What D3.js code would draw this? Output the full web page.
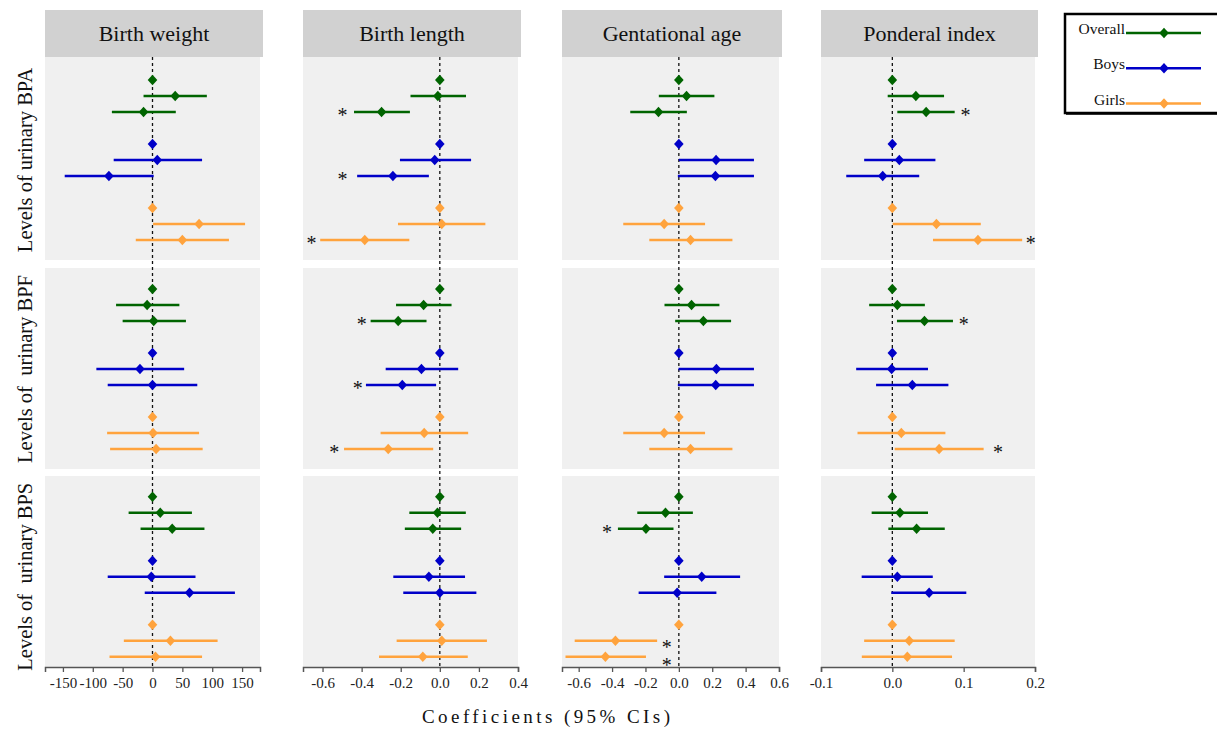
<!DOCTYPE html>
<html>
<head>
<meta charset="utf-8">
<script src="https://cdn.jsdelivr.net/npm/d3@7"></script>
<style>
  body { margin: 0; background: #fff; }
  svg { display: block; font-family: "Liberation Serif", "DejaVu Serif", serif; }
</style>
</head>
<body>
<svg id="chart" width="1217" height="729"></svg>
<script>
// outcomes (columns) and exposures (rows)
const outcomes = ['Birth weight', 'Birth length', 'Gentational age', 'Ponderal index'];
const rowLabels = ['Levels of urinary BPA', 'Levels of  urinary BPF', 'Levels of  urinary BPS'];
const groups = ['Overall', 'Boys', 'Girls'];
const groupColors = ['#006400', '#0000c8', '#ffa33d'];

// x domains and ticks for each outcome
const xDomains = [[-180, 180], [-0.7, 0.4], [-0.7, 0.6], [-0.1, 0.2]];
const tickValues = [
    [-150, -100, -50, 0, 50, 100, 150],
    [-0.6, -0.4, -0.2, 0, 0.2, 0.4],
    [-0.6, -0.4, -0.2, 0, 0.2, 0.4, 0.6],
    [-0.1, 0, 0.1, 0.2]
];
const tickLabels = [
    ['-150', '-100', '-50', '0', '50', '100', '150'],
    ['-0.6', '-0.4', '-0.2', '0.0', '0.2', '0.4'],
    ['-0.6', '-0.4', '-0.2', '0.0', '0.2', '0.4', '0.6'],
    ['-0.1', '0.0', '0.1', '0.2']
];

// [estimate, lower, upper] for each exposure row:
// Overall (ref, T2, T3), Boys (ref, T2, T3), Girls (ref, T2, T3)
const birthWeight = [
    [[0, 0, 0], [38, -15, 91], [-15, -68, 39],
     [0, 0, 0], [8, -65, 83], [-73, -147, 2],
     [0, 0, 0], [78, 1, 155], [50, -28, 128]],
    [[0, 0, 0], [-9, -61, 45], [2, -50, 56],
     [0, 0, 0], [-21, -94, 53], [0, -75, 75],
     [0, 0, 0], [1, -76, 78], [6, -71, 84]],
    [[0, 0, 0], [13, -40, 66], [33, -20, 87],
     [0, 0, 0], [-2, -75, 72], [62, -13, 138],
     [0, 0, 0], [30, -48, 109], [5, -72, 83]]
];
const birthLength = [
    [[0, 0, 0], [-0.01, -0.15, 0.134], [-0.298, -0.439, -0.153],
     [0, 0, 0], [-0.026, -0.204, 0.16], [-0.24, -0.423, -0.056],
     [0, 0, 0], [0.01, -0.214, 0.233], [-0.384, -0.612, -0.156]],
    [[0, 0, 0], [-0.083, -0.224, 0.06], [-0.213, -0.354, -0.068],
     [0, 0, 0], [-0.094, -0.277, 0.094], [-0.192, -0.378, -0.019],
     [0, 0, 0], [-0.08, -0.303, 0.145], [-0.264, -0.49, -0.034]],
    [[0, 0, 0], [-0.012, -0.156, 0.133], [-0.036, -0.179, 0.109],
     [0, 0, 0], [-0.056, -0.238, 0.129], [0, -0.187, 0.187],
     [0, 0, 0], [0.01, -0.221, 0.241], [-0.087, -0.311, 0.143]]
];
const gestationalAge = [
    [[0, 0, 0], [0.046, -0.12, 0.213], [-0.122, -0.291, 0.048],
     [0, 0, 0], [0.223, 0, 0.45], [0.219, -0.006, 0.45],
     [0, 0, 0], [-0.088, -0.333, 0.157], [0.07, -0.177, 0.321]],
    [[0, 0, 0], [0.076, -0.086, 0.243], [0.147, -0.022, 0.313],
     [0, 0, 0], [0.225, -0.002, 0.45], [0.221, -0.006, 0.45],
     [0, 0, 0], [-0.088, -0.333, 0.157], [0.07, -0.177, 0.321]],
    [[0, 0, 0], [-0.08, -0.249, 0.084], [-0.197, -0.365, -0.032],
     [0, 0, 0], [0.137, -0.088, 0.367], [-0.01, -0.241, 0.225],
     [0, 0, 0], [-0.38, -0.624, -0.13], [-0.44, -0.679, -0.197]]
];
const ponderalIndex = [
    [[0, 0, 0], [0.033, -0.0065, 0.0725], [0.0474, 0.007, 0.0874],
     [0, 0, 0], [0.0098, -0.0395, 0.0604], [-0.0135, -0.0646, 0.0377],
     [0, 0, 0], [0.0618, 0.0005, 0.124], [0.12, 0.057, 0.182]],
    [[0, 0, 0], [0.007, -0.0325, 0.0456], [0.045, 0.0065, 0.085],
     [0, 0, 0], [-0.001, -0.0507, 0.05], [0.028, -0.0228, 0.0786],
     [0, 0, 0], [0.0126, -0.0488, 0.0744], [0.0656, 0.0033, 0.128]],
    [[0, 0, 0], [0.0107, -0.029, 0.05], [0.034, -0.0056, 0.0735],
     [0, 0, 0], [0.007, -0.043, 0.0567], [0.0516, -0.0014, 0.1037],
     [0, 0, 0], [0.0237, -0.0395, 0.0874], [0.021, -0.0428, 0.0837]]
];
const allEstimates = [birthWeight, birthLength, gestationalAge, ponderalIndex];

// significance marks: [outcome, exposure row, item index, x value of the star, slot nudge]
const stars = [
    [1, 0, 2, -0.498, 0], [1, 0, 5, -0.498, 0], [1, 0, 8, -0.656, 0],
    [1, 1, 2, -0.40, 0], [1, 1, 5, -0.42, 0], [1, 1, 8, -0.54, 0],
    [2, 2, 2, -0.431, 0], [2, 2, 7, -0.072, 0.2], [2, 2, 8, -0.072, 0.3],
    [3, 0, 2, 0.1027, 0], [3, 0, 8, 0.194, 0],
    [3, 1, 2, 0.10, 0], [3, 1, 8, 0.148, 0]
];

// ---- layout ----
const svg = d3.select('#chart');
const colX = [[45, 260], [303, 518], [562, 779], [821, 1035]];
const rowY = [[57, 260], [268, 469], [476, 667]];
const firstPoint = [80, 289, 496.7];
const slot = [0, 1, 2, 4, 5, 6, 8, 9, 10];
const stripTop = 10;

const xScales = colX.map((c, i) => d3.scaleLinear().domain(xDomains[i]).range(c));
const yScales = firstPoint.map(y0 => d3.scaleLinear().domain([0, 10]).range([y0, y0 + 160]));

const diamond = 'M0,-5.2L4.8,0L0,5.2L-4.8,0Z';

// strip headers
outcomes.forEach((name, i) => {
    const [x0, x1] = colX[i];
    svg.append('rect')
        .attr('x', x0).attr('y', stripTop)
        .attr('width', x1 - x0 + 3).attr('height', rowY[0][0] - stripTop)
        .attr('fill', '#d1d1d1');
    svg.append('text')
        .attr('x', (x0 + x1 + 3) / 2).attr('y', 41)
        .attr('text-anchor', 'middle')
        .attr('font-size', 22)
        .attr('fill', '#111')
        .text(name);
});

// panels
rowY.forEach(([y0, y1], r) => {
    colX.forEach(([x0, x1], c) => {
        svg.append('rect')
            .attr('x', x0).attr('y', y0)
            .attr('width', x1 - x0).attr('height', y1 - y0)
            .attr('fill', '#f0f0f0');
    });
    // row label
    const cy = (yScales[r](0) + yScales[r](10)) / 2;
    svg.append('text')
        .attr('transform', `translate(32,${cy}) rotate(-90)`)
        .attr('text-anchor', 'middle')
        .attr('font-size', 20.5)
        .attr('fill', '#111')
        .style('white-space', 'pre')
        .text(rowLabels[r]);
});

// zero reference lines
xScales.forEach(x => {
    svg.append('line')
        .attr('x1', x(0)).attr('x2', x(0))
        .attr('y1', rowY[0][0]).attr('y2', rowY[2][1])
        .attr('stroke', '#111')
        .attr('stroke-width', 1.3)
        .attr('stroke-dasharray', '3,3');
});

// estimates
allEstimates.forEach((outcome, c) => {
    const x = xScales[c];
    outcome.forEach((rowData, r) => {
        const y = yScales[r];
        const g = svg.append('g');
        const items = rowData.map((d, i) => ({ est: d[0], lo: d[1], hi: d[2], i, group: Math.floor(i / 3) }));

        g.selectAll('line.ci')
            .data(items.filter(d => d.lo !== d.hi))
            .enter()
            .append('line')
            .attr('class', 'ci')
            .attr('x1', d => x(d.lo))
            .attr('x2', d => x(d.hi))
            .attr('y1', d => y(slot[d.i]))
            .attr('y2', d => y(slot[d.i]))
            .attr('stroke', d => groupColors[d.group])
            .attr('stroke-width', 2.4);

        g.selectAll('path.pt')
            .data(items)
            .enter()
            .append('path')
            .attr('class', 'pt')
            .attr('d', diamond)
            .attr('transform', d => `translate(${x(d.est)},${y(slot[d.i])})`)
            .attr('fill', d => groupColors[d.group]);
    });
});

// stars
svg.append('g').selectAll('text')
    .data(stars)
    .enter()
    .append('text')
    .attr('x', d => xScales[d[0]](d[3]))
    .attr('y', d => yScales[d[1]](slot[d[2]] + d[4]) + 10)
    .attr('text-anchor', 'middle')
    .attr('font-size', 20)
    .attr('fill', '#111')
    .text('*');

// x axes
xScales.forEach((x, i) => {
    const axis = d3.axisBottom(x)
        .tickValues(tickValues[i])
        .tickFormat((d, k) => tickLabels[i][k])
        .tickSizeOuter(0)
        .tickSize(5)
        .tickPadding(5);
    const ax = svg.append('g')
        .attr('transform', `translate(0,${rowY[2][1]})`)
        .call(axis);
    ax.select('.domain').attr('stroke', '#555').attr('stroke-width', 1.5);
    ax.selectAll('.tick line').attr('stroke', '#555').attr('stroke-width', 1.3);
    ax.selectAll('.tick text')
        .attr('font-family', '"Liberation Serif", serif')
        .attr('font-size', 15)
        .attr('fill', '#222');
});

// x title
svg.append('text')
    .attr('x', 422).attr('y', 723)
    .attr('font-size', 19)
    .attr('fill', '#111')
    .attr('textLength', 248)
    .attr('lengthAdjust', 'spacing')
    .text('Coefficients (95% CIs)');

// legend
const legend = svg.append('g');
legend.append('rect')
    .attr('x', 1065).attr('y', 14)
    .attr('width', 170).attr('height', 99)
    .attr('fill', '#fff')
    .attr('stroke', '#000')
    .attr('stroke-width', 2.5);
legend.append('line')
    .attr('x1', 1066).attr('x2', 1217)
    .attr('y1', 114).attr('y2', 114)
    .attr('stroke', '#000').attr('stroke-width', 1.5);
const legendY = d3.scalePoint().domain(groups).range([33, 103.5]);
groups.forEach((name, i) => {
    const y = legendY(name);
    legend.append('text')
        .attr('x', 1125).attr('y', y + 1)
        .attr('text-anchor', 'end')
        .attr('font-size', 15.5)
        .attr('fill', '#111')
        .text(name);
    legend.append('line')
        .attr('x1', 1126).attr('x2', 1201)
        .attr('y1', y).attr('y2', y)
        .attr('stroke', groupColors[i])
        .attr('stroke-width', 2.4);
    legend.append('path')
        .attr('d', diamond)
        .attr('transform', `translate(1164,${y})`)
        .attr('fill', groupColors[i]);
});
</script>
</body>
</html>
